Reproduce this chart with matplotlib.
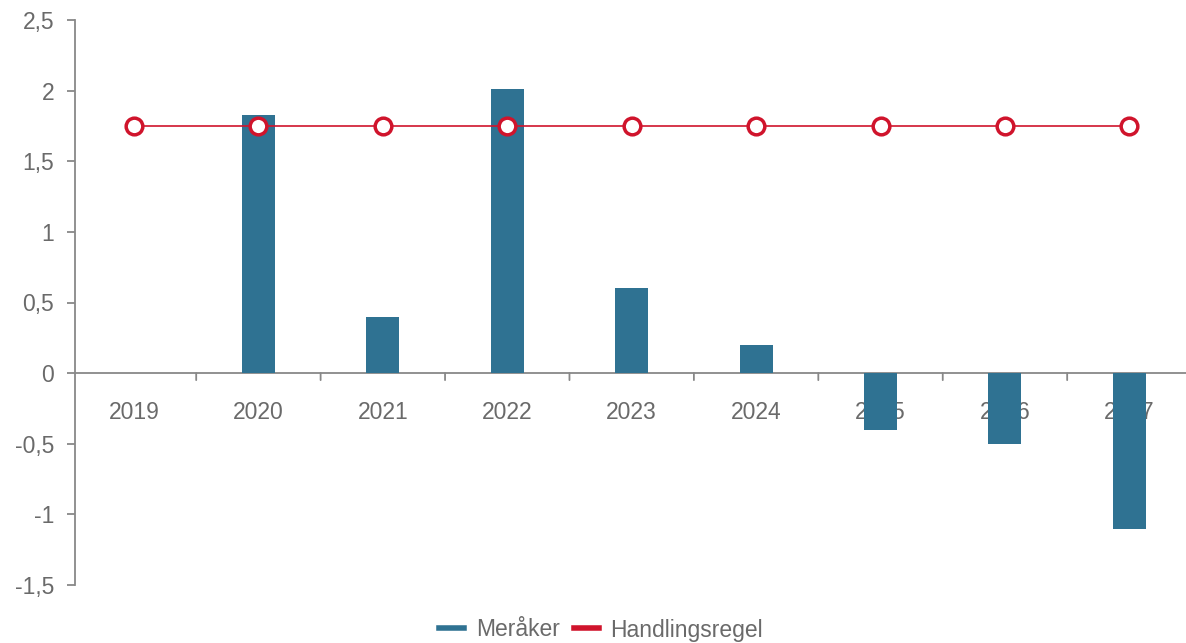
import matplotlib
matplotlib.use("Agg")
import matplotlib.pyplot as plt
from matplotlib.lines import Line2D
from matplotlib.transforms import offset_copy

plt.rcParams['font.family'] = ['Liberation Sans', 'DejaVu Sans']

years = ["2019", "2020", "2021", "2022", "2023", "2024", "2025", "2026", "2027"]
meraker = [0, 1.83, 0.40, 2.01, 0.60, 0.20, -0.40, -0.50, -1.10]
handlingsregel = [1.75, 1.75, 1.75, 1.75, 1.75, 1.75, 1.75, 1.75, 1.75]
ytick_vals = [-1.5, -1, -0.5, 0, 0.5, 1, 1.5, 2, 2.5]
ytick_labels = ["-1,5", "-1", "-0,5", "0", "0,5", "1", "1,5", "2", "2,5"]

bar_color = "#2f7292"
line_color = "#d0142c"
text_color = "#6a6a6a"
axis_color = "#888888"
fs = 16.5

W, H = 1186, 643
fig = plt.figure(figsize=(W / 100, H / 100), dpi=100)
left, right, top, bottom = 75, 1191.6, 20, 585
ax = fig.add_axes([left / W, 1 - bottom / H, (right - left) / W, (bottom - top) / H])

x = list(range(len(years)))
ax.bar(x, meraker, width=0.265, color=bar_color, zorder=3)
ax.plot(x, handlingsregel, color=line_color, lw=1.2, marker='o', markersize=12,
        markerfacecolor='white', markeredgecolor=line_color, markeredgewidth=2.5, zorder=4)

ax.set_xlim(-0.474, 8.5)
ax.set_ylim(-1.5, 2.5)

for s in ['top', 'right', 'bottom']:
    ax.spines[s].set_visible(False)
ax.spines['left'].set_color(axis_color)
ax.spines['left'].set_linewidth(1.3)
ax.axhline(0, color=axis_color, lw=1.3, zorder=2)

ax.set_yticks(ytick_vals)
ax.set_yticklabels(ytick_labels)
ax.tick_params(axis='y', colors=axis_color, labelcolor=text_color, labelsize=fs,
               length=6, width=1.3, direction='out', pad=9)

# category separators: small tick marks below the zero line
ax.set_xticks([])
for i in range(len(years)):
    xt = i + 0.5
    ax.annotate("", xy=(xt, 0), xycoords='data',
                xytext=(0, -7), textcoords='offset pixels',
                arrowprops=dict(arrowstyle='-', color=axis_color, lw=1.3,
                                shrinkA=0, shrinkB=0), zorder=2)

label_tr = offset_copy(ax.transData, fig=fig, x=0, y=-39, units='dots')
for i, yr in enumerate(years):
    ax.text(i, 0, yr, transform=label_tr, ha='center', va='center',
            fontsize=fs, color=text_color, zorder=1)

handles = [Line2D([0], [0], color=bar_color, lw=4),
           Line2D([0], [0], color=line_color, lw=4)]
fig.legend(handles, ["Meråker", "Handlingsregel"], loc='center',
           bbox_to_anchor=(601 / W, 1 - 630 / H), ncol=2, frameon=False,
           fontsize=fs, labelcolor=text_color, handlelength=1.1,
           handletextpad=0.5, columnspacing=0.6)

fig.savefig("out.png", dpi=100)
